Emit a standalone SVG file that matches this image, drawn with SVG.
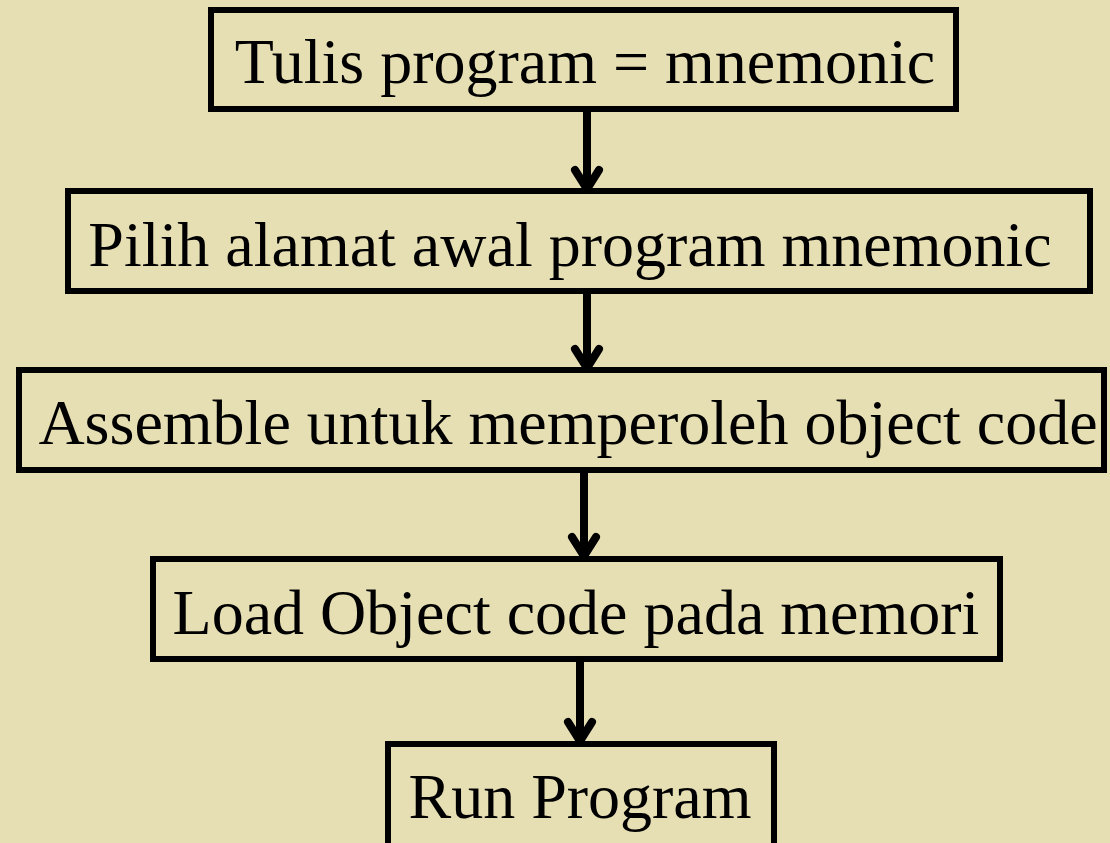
<svg xmlns="http://www.w3.org/2000/svg" width="1110" height="843" viewBox="0 0 1110 843">
<style>
.box{fill:none;stroke:#000;stroke-width:6}
.lbl{font-family:"Liberation Serif","Times New Roman",serif;font-size:64px;fill:#000;text-anchor:middle}
.conn{stroke:#000;stroke-width:8;fill:none;stroke-linecap:round;stroke-linejoin:round}
</style>
<rect width="1110" height="843" fill="#E7DFB4"/>
<g id="connectors">
<path class="conn" d="M587 110V189M575 170L587 189L599 170"/>
<path class="conn" d="M587 292V368M575 349L587 368L599 349"/>
<path class="conn" d="M584 471V556M572 537L584 556L596 537"/>
<path class="conn" d="M580 661V741M568 722L580 741L592 722"/>
</g>
<g id="n1"><rect class="box" x="211" y="10" width="745" height="99"/><text class="lbl" x="585" y="83">Tulis program = mnemonic</text></g>
<g id="n2"><rect class="box" x="68" y="191" width="1022" height="100"/><text class="lbl" x="570" y="266">Pilih alamat awal program mnemonic</text></g>
<g id="n3"><rect class="box" x="19" y="370" width="1085" height="100"/><text class="lbl" x="568" y="444">Assemble untuk memperoleh object code</text></g>
<g id="n4"><rect class="box" x="153" y="559" width="847" height="100"/><text class="lbl" x="576" y="634">Load Object code pada memori</text></g>
<g id="n5"><rect class="box" x="388" y="744" width="386" height="110"/><text class="lbl" x="580" y="818">Run Program</text></g>
</svg>
